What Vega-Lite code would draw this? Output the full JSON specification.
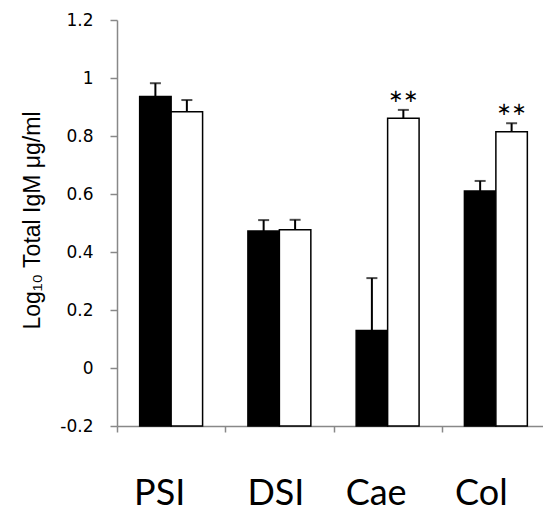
{
  "$schema": "https://vega.github.io/schema/vega-lite/v6.json",
  "autosize": "none",
  "width": 426,
  "height": 406,
  "padding": {"left": 117, "top": 20, "right": 0, "bottom": 88},
  "background": "white",
  "config": {"view": {"stroke": null}, "axis": {"grid": false}},
  "data": {"values": [
    {"cat": "PSI", "grp": "A", "value": 0.936, "err": 0.046, "star": ""},
    {"cat": "PSI", "grp": "B", "value": 0.884, "err": 0.040, "star": ""},
    {"cat": "DSI", "grp": "A", "value": 0.472, "err": 0.038, "star": ""},
    {"cat": "DSI", "grp": "B", "value": 0.477, "err": 0.034, "star": ""},
    {"cat": "Cae", "grp": "A", "value": 0.129, "err": 0.181, "star": ""},
    {"cat": "Cae", "grp": "B", "value": 0.861, "err": 0.029, "star": "∗∗"},
    {"cat": "Col", "grp": "A", "value": 0.610, "err": 0.035, "star": ""},
    {"cat": "Col", "grp": "B", "value": 0.815, "err": 0.029, "star": "∗∗"}
  ]},
  "encoding": {
    "x": {
      "field": "cat", "type": "nominal", "sort": ["PSI", "DSI", "Cae", "Col"],
      "scale": {"range": [0, 433], "paddingInner": 0, "paddingOuter": 0},
      "axis": {
        "title": null, "labelAngle": 0, "labelFont": "Lato", "labelFontSize": 36,
        "labelColor": "black", "labelPadding": 44, "tickBand": "extent",
        "tickSize": 6, "tickColor": "#888888", "domainColor": "#888888",
        "domainWidth": 1.5, "tickWidth": 1.5,
        "labelOffset": {"condition": [
          {"test": "datum.value === 'DSI'", "value": -4},
          {"test": "datum.value === 'Cae'", "value": -12},
          {"test": "datum.value === 'Col'", "value": -15}
        ], "value": -12}
      }
    },
    "xOffset": {"field": "grp", "type": "nominal", "scale": {"domain": ["A", "B"], "paddingInner": 0, "paddingOuter": 0.72}},
    "y": {"type": "quantitative"}
  },
  "layer": [
    {
      "mark": {"type": "bar", "stroke": "black", "strokeWidth": 1.5},
      "encoding": {
        "y": {
          "field": "value", "type": "quantitative",
          "scale": {"domain": [-0.2, 1.2], "nice": false, "zero": false},
          "axis": {
            "values": [-0.2, 0, 0.2, 0.4, 0.6, 0.8, 1, 1.2],
            "labelExpr": "toString(round(datum.value*10)/10)",
            "title": "Log₁₀ Total IgM μg/ml",
            "titleFont": "Liberation Sans", "titleFontSize": 23, "titleFontWeight": "normal", "titleColor": "black",
            "titleX": -85, "titleY": 200, "titleBaseline": "middle", "titleAngle": -90, "titleAlign": "center",
            "labelFont": "DejaVu Sans", "labelFontSize": 17, "labelColor": "black", "labelPadding": 17,
            "tickSize": 7, "tickColor": "#888888", "domainColor": "#888888", "domainWidth": 1.5, "tickWidth": 1.5
          }
        },
        "y2": {"datum": -0.2},
        "fill": {"field": "grp", "type": "nominal", "scale": {"domain": ["A", "B"], "range": ["black", "white"]}, "legend": null}
      }
    },
    {
      "transform": [{"calculate": "datum.value + datum.err", "as": "hi"}],
      "mark": {"type": "rule", "color": "black", "strokeWidth": 2},
      "encoding": {"y": {"field": "value", "type": "quantitative"}, "y2": {"field": "hi"}}
    },
    {
      "transform": [{"calculate": "datum.value + datum.err", "as": "hi"}],
      "mark": {"type": "tick", "color": "black", "size": 11, "thickness": 2, "orient": "horizontal"},
      "encoding": {"y": {"field": "hi", "type": "quantitative"}}
    },
    {
      "transform": [{"calculate": "datum.value + datum.err", "as": "hi"}],
      "mark": {"type": "text", "font": "DejaVu Sans", "fontSize": 18, "dy": -13, "baseline": "middle", "color": "black"},
      "encoding": {"y": {"field": "hi", "type": "quantitative"}, "text": {"field": "star"}}
    }
  ]
}
